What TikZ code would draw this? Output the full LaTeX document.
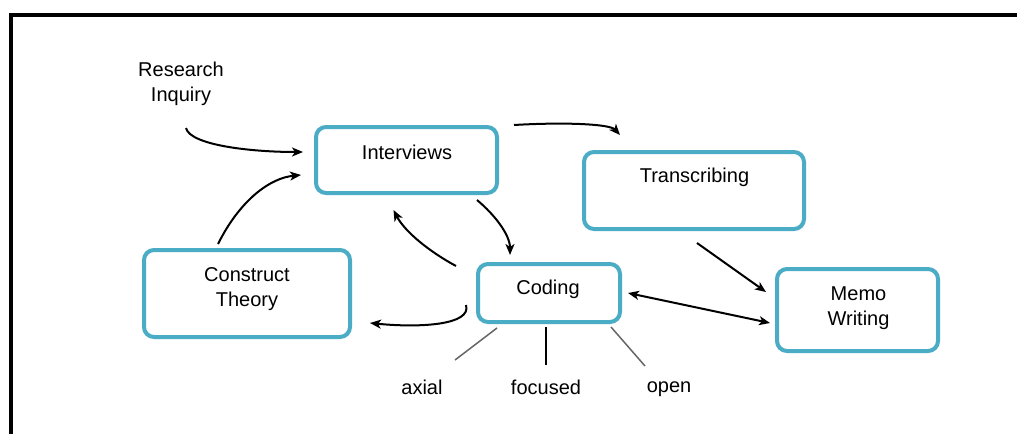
\documentclass[tikz,border=0pt]{standalone}
\usepackage{fontspec}
\setmainfont{Liberation Sans}
\usetikzlibrary{arrows.meta}
\definecolor{boxblue}{RGB}{75,172,198}
\tikzset{
  box/.style={draw=boxblue, line width=4pt, rounded corners=10pt, inner sep=0pt},
  lbl/.style={font=\fontsize{20}{25}\selectfont, align=center, inner sep=0pt},
  conn/.style={line width=2pt, -{Stealth[length=11pt,width=9pt,inset=3pt]}},
  dconn/.style={line width=2pt, {Stealth[length=11pt,width=9pt,inset=3pt]}-{Stealth[length=11pt,width=9pt,inset=3pt]}},
  tick/.style={line width=1.5pt, draw=gray!80!black},
  tickb/.style={line width=2pt, draw=black}
}
\begin{document}
\begin{tikzpicture}[x=1pt,y=-1pt]
\useasboundingbox (0,0) rectangle (1017,434);
\fill[white] (0,0) rectangle (1017,434);
% frame
\draw[line width=4pt] (11,434) -- (11,15.3) -- (1017,15.3);
% boxes
\node[box, minimum width=181pt, minimum height=66pt] (int) at (406.5,160) {};
\node[box, minimum width=220pt, minimum height=77pt] (tr) at (694,190.5) {};
\node[box, minimum width=142pt, minimum height=58pt] (cod) at (549,293) {};
\node[box, minimum width=206pt, minimum height=87pt] (ct) at (247,293.5) {};
\node[box, minimum width=161pt, minimum height=82pt] (mw) at (857.5,310) {};
% texts
\node[lbl] (intT) at (407,152) {Interviews};
\node[lbl] (trT) at (694.5,177) {Transcribing};
\node[lbl] (codT) at (548,289) {Coding};
\node[lbl] (ctT) at (247,289.5) {Construct\\Theory};
\node[lbl] (mwT) at (858.5,308.5) {Memo\\Writing};
\node[lbl] (ri) at (181,84) {Research\\Inquiry};
\node[lbl] (ax) at (422,387) {axial};
\node[lbl] (fo) at (546,387) {focused};
\node[lbl] (op) at (669,389) {open};
% connectors
\draw[conn] ([xshift=5pt,yshift=-22pt]ri.south) .. controls (190,145) and (250,152) .. ([xshift=-11pt,yshift=8pt]int.west);
\draw[conn] ([xshift=-29pt,yshift=4pt]ct.north) .. controls (240,200) and (270,178) .. ([xshift=-13pt,yshift=-15pt]int.west);
\draw[conn] ([xshift=15pt]int.north east) .. controls (565,122) and (610,124) .. ([xshift=38pt,yshift=15pt]tr.north west);
\draw[conn] ([xshift=-22pt,yshift=-5pt]int.south east) .. controls (495,215) and (510,235) .. ([xshift=34pt,yshift=7pt]cod.north west);
\draw[conn] ([xshift=-20pt,yshift=-4pt]cod.north west) .. controls (430,252) and (405,232) .. ([xshift=-13pt,yshift=-15pt]int.south);
\draw[conn] ([xshift=-10pt,yshift=-12pt]cod.west) .. controls (472,325) and (420,328) .. ([xshift=18pt,yshift=-29.5pt]ct.east);
\draw[conn] ([xshift=3pt,yshift=-12pt]tr.south) -- ([xshift=-9pt,yshift=18pt]mw.west);
\draw[dconn] ([xshift=6pt]cod.east) -- ([xshift=-5pt,yshift=-13pt]mw.west);
% coding subtypes
\draw[tick] ([xshift=-52pt,yshift=-4pt]cod.south) -- ([xshift=33pt,yshift=27pt]ax.center);
\draw[tickb] ([xshift=-3pt,yshift=-3pt]cod.south) -- ([yshift=22pt]fo.center);
\draw[tick] ([xshift=62pt,yshift=-3pt]cod.south) -- ([xshift=-24pt,yshift=23pt]op.center);
\end{tikzpicture}
\end{document}
